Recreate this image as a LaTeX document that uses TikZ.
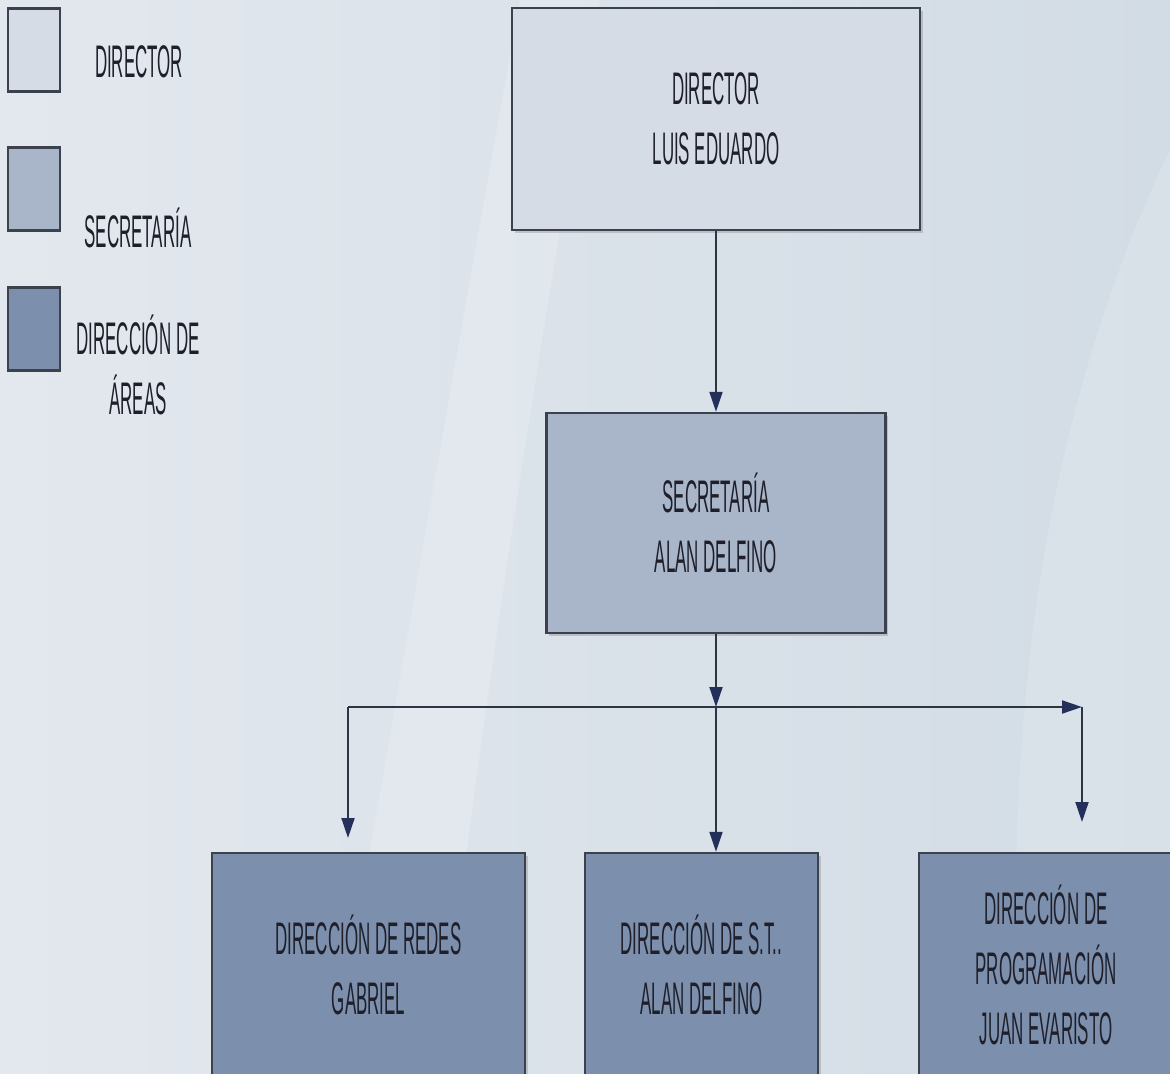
\documentclass[tikz,border=0pt]{standalone}
\usepackage{fontspec}
\setmainfont[FakeStretch=0.37]{Liberation Sans}
\usetikzlibrary{positioning,arrows.meta,shadows}

\definecolor{bgleft}{HTML}{E3E8EE}
\definecolor{bgright}{HTML}{D2DCE5}
\definecolor{dirfill}{HTML}{D6DCE6}
\definecolor{secfill}{HTML}{A9B5C8}
\definecolor{areafill}{HTML}{7C8FAC}
\definecolor{edgecol}{HTML}{3B414D}
\definecolor{textcol}{HTML}{1E1F2A}
\definecolor{linecol}{HTML}{2E3442}
\definecolor{tipcol}{HTML}{24305A}

\begin{document}
\begin{tikzpicture}[x=0.02cm,y=-0.02cm,>={Triangle[length=0.4cm,width=0.26cm,color=tipcol]},semithick]
  \tikzstyle{every node}=[font=\fontsize{26}{34}\selectfont,text=textcol,align=center]
  \tikzstyle{unit}=[draw=edgecol,line width=1.4pt,inner sep=0pt,
    drop shadow={shadow xshift=1.5pt,shadow yshift=-1.5pt,opacity=0.35}]
  \tikzstyle{key}=[draw=edgecol,line width=1.2pt,inner sep=0pt,minimum width=1.04cm,minimum height=1.66cm]
  \tikzstyle{link}=[draw=linecol,line width=1.1pt]

  % Background
  \useasboundingbox (0,0) rectangle (1170,1074);
  \fill[left color=bgleft,right color=bgright] (0,0) rectangle (1170,1074);
  \fill[white,opacity=0.18] (330,1074) .. controls (380,800) and (430,500) .. (520,0)
    -- (600,0) .. controls (520,450) and (470,800) .. (440,1074) -- cycle;
  \fill[white,opacity=0.15] (1170,150) .. controls (1050,400) and (1000,700) .. (1020,1074)
    -- (1170,1074) -- cycle;

  % Legend
  \node[key,fill=dirfill] (kdir) at (34,50) {};
  \node[key,fill=secfill] (ksec) at (34,189) {};
  \node[key,fill=areafill] (karea) at (34,329) {};
  \node (ldir) at (139,62) {DIRECTOR};
  \node (lsec) at (138,228) {SECRETARÍA};
  \node (larea) at (138,365) {DIRECCIÓN DE\\ÁREAS};

  % Units
  \node[unit,fill=dirfill,minimum width=8.16cm,minimum height=4.44cm] (dir) at (716,119)
    {DIRECTOR\\LUIS EDUARDO};
  \node[unit,fill=secfill,minimum width=6.78cm,minimum height=4.4cm] (sec) at (716,523)
    {SECRETARÍA\\ALAN DELFINO};
  \node[unit,fill=areafill,minimum width=6.26cm,minimum height=4.48cm] (redes) at (368.5,965)
    {DIRECCIÓN DE REDES\\GABRIEL};
  \node[unit,fill=areafill,minimum width=4.66cm,minimum height=4.48cm] (st) at (701.5,965)
    {DIRECCIÓN DE S.T..\\ALAN DELFINO};
  \node[unit,fill=areafill,minimum width=5.08cm,minimum height=4.48cm] (prog) at (1046,965)
    {DIRECCIÓN DE\\PROGRAMACIÓN\\JUAN EVARISTO};

  % Branch points
  \coordinate (split) at (716,707);
  \coordinate (lbranch) at (348,707);
  \coordinate (rbranch) at (1082,707);
  \coordinate (lend) at (348,838);
  \coordinate (rend) at (1082,822);

  % Links
  \path[->]
    (dir) edge[link] (sec)
    (sec) edge[link] (split)
    (lbranch) edge[link] (rbranch)
    (lbranch) edge[link] (lend)
    (split) edge[link] (split |- st.north)
    (rbranch) edge[link] (rend);
\end{tikzpicture}
\end{document}
